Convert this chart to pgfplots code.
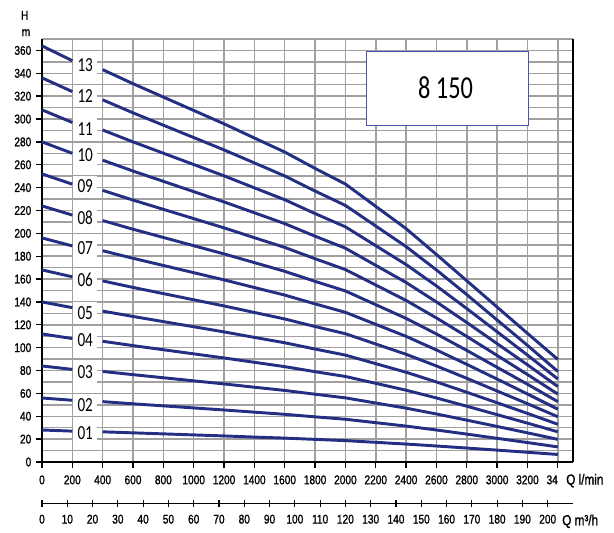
\documentclass[border=0pt]{standalone}
\usepackage{pgfplots}
\usepackage{pgfplotstable}
\pgfplotsset{compat=1.18}
\usepackage{fontspec}
\setmainfont[FakeStretch=0.78]{Liberation Sans}
\newfontfamily\tickfont[FakeStretch=0.8,FakeBold=1.2]{Liberation Sans}
\newfontfamily\calfont[FakeStretch=0.76]{Carlito}
\definecolor{curvec}{RGB}{36,46,130}
\definecolor{gridc}{RGB}{160,160,160}
\definecolor{boxc}{RGB}{70,85,175}

\pgfplotstableread{
Q c1 c2 c3 c4 c5 c6 c7 c8 c9 c10 c11 c12 c13
0 28.0 56.0 84.0 112.0 140.0 168.0 196.0 224.0 252.0 280.0 308.0 336.0 364.0
200 27.0 54.0 81.0 108.0 135.0 162.0 189.0 216.0 243.0 270.0 297.0 324.0 351.0
300 nan nan nan nan nan nan nan nan nan nan nan nan nan
400 26.4 52.8 79.2 105.6 132.0 158.4 184.8 211.2 237.6 264.0 290.4 316.8 343.2
600 25.5 50.9 76.4 101.8 127.3 152.7 178.2 203.6 229.1 254.5 280.0 305.4 330.9
800 24.6 49.1 73.7 98.2 122.8 147.3 171.9 196.4 221.0 245.5 270.1 294.6 319.2
1000 23.7 47.3 71.0 94.6 118.3 141.9 165.6 189.2 212.9 236.5 260.2 283.8 307.5
1200 22.8 45.5 68.3 91.0 113.8 136.5 159.3 182.0 204.8 227.5 250.3 273.0 295.8
1400 21.8 43.6 65.4 87.2 109.0 130.8 152.6 174.4 196.2 218.0 239.8 261.6 283.4
1600 20.9 41.7 62.6 83.4 104.3 125.1 146.0 166.8 187.7 208.5 229.4 250.2 271.1
1800 19.8 39.5 59.3 79.0 98.8 118.5 138.3 158.0 177.8 197.5 217.3 237.0 256.8
2000 18.7 37.4 56.1 74.8 93.5 112.2 130.9 149.6 168.3 187.0 205.7 224.4 243.1
2200 17.2 34.4 51.6 68.8 86.0 103.2 120.4 137.6 154.8 172.0 189.2 206.4 223.6
2400 15.7 31.4 47.1 62.8 78.5 94.2 109.9 125.6 141.3 157.0 172.7 188.4 204.1
2600 14.0 28.0 42.0 56.0 70.0 84.0 98.0 112.0 126.0 140.0 154.0 168.0 181.5
2800 12.2 24.4 36.6 48.8 61.0 73.2 85.4 97.6 109.8 122.0 134.2 146.4 158.5
3000 10.4 20.7 31.1 41.4 51.8 62.1 72.5 82.8 93.2 103.5 113.9 124.2 135.5
3200 8.5 17.0 25.5 34.0 42.5 51.0 59.5 68.0 76.5 85.0 93.5 102.0 112.5
3400 6.6 13.2 19.8 26.4 33.0 39.6 46.2 52.8 59.4 66.0 72.6 79.2 89.7
}\curves

\begin{document}
\begin{tikzpicture}
\path[use as bounding box] (-31.5pt,-52.5pt) rectangle (429pt,346.5pt);
\begin{axis}[
  at={(0,0)}, anchor=south west,
  scale only axis, width=398.25pt, height=317.25pt,
  xmin=0, xmax=3500, ymin=0, ymax=370,
  axis x line*=bottom, axis y line*=left,
  x axis line style={-, black, line width=1.2pt},
  y axis line style={-, black, line width=1.2pt},
  xtick={0,200,...,3400},
  xticklabels={0,200,400,600,800,1000,1200,1400,1600,1800,2000,2200,2400,2600,2800,3000,3200,{\makebox[0pt][r]{34}}},
  ytick={0,20,...,360},
  minor ytick={10,30,...,370},
  grid=both,
  major grid style={gridc, line width=1.1pt},
  minor grid style={gridc, line width=1.1pt},
  tick align=outside, major tick length=4.5pt, minor tick length=0pt,
  tick style={black, line width=1pt},
  ticklabel style={font=\tickfont\fontsize{9.5}{10}\selectfont},
  xticklabel style={yshift=-2pt},
  /pgf/number format/assume math mode=true,
  unbounded coords=jump,
  clip=false,
]
\addplot[curvec, line width=2.2pt] table[x=Q, y=c1] {\curves};
\addplot[curvec, line width=2.2pt] table[x=Q, y=c2] {\curves};
\addplot[curvec, line width=2.2pt] table[x=Q, y=c3] {\curves};
\addplot[curvec, line width=2.2pt] table[x=Q, y=c4] {\curves};
\addplot[curvec, line width=2.2pt] table[x=Q, y=c5] {\curves};
\addplot[curvec, line width=2.2pt] table[x=Q, y=c6] {\curves};
\addplot[curvec, line width=2.2pt] table[x=Q, y=c7] {\curves};
\addplot[curvec, line width=2.2pt] table[x=Q, y=c8] {\curves};
\addplot[curvec, line width=2.2pt] table[x=Q, y=c9] {\curves};
\addplot[curvec, line width=2.2pt] table[x=Q, y=c10] {\curves};
\addplot[curvec, line width=2.2pt] table[x=Q, y=c11] {\curves};
\addplot[curvec, line width=2.2pt] table[x=Q, y=c12] {\curves};
\addplot[curvec, line width=2.2pt] table[x=Q, y=c13] {\curves};
\draw[black, line width=1.2pt] (axis cs:3500,0) -- (axis cs:3500,370);
\tikzset{lab/.style={fill=white, inner sep=0pt, minimum width=18pt, minimum height=16pt, font=\calfont\fontsize{15}{15}\selectfont}}
\node[lab] at (axis cs:285,347.5) {13};
\node[lab] at (axis cs:285,319.7) {12};
\node[lab] at (axis cs:285,291.3) {11};
\node[lab] at (axis cs:285,268.5) {10};
\node[lab] at (axis cs:285,241) {09};
\node[lab] at (axis cs:285,214) {08};
\node[lab] at (axis cs:285,186.7) {07};
\node[lab] at (axis cs:285,159) {06};
\node[lab] at (axis cs:285,130.6) {05};
\node[lab] at (axis cs:285,107) {04};
\node[lab] at (axis cs:285,78.6) {03};
\node[lab] at (axis cs:285,50.2) {02};
\node[lab] at (axis cs:285,25.4) {01};
\draw[boxc, line width=0.9pt, fill=white] (axis cs:2141,294.2) rectangle (axis cs:3208,359.1);
\node[font=\calfont\fontsize{24}{24}\selectfont] at (axis cs:2660,327) {8 150};
\end{axis}
\begin{axis}[
  at={(0,-31pt)}, anchor=south west,
  scale only axis, width=398.25pt, height=1pt,
  xmin=0, xmax=210, ymin=0, ymax=1,
  axis y line=none, axis x line*=bottom,
  x axis line style={-, black, line width=0.8pt},
  xtick={0,10,...,200},
  tick align=center, major tick length=5pt,
  tick style={black, line width=0.8pt},
  ticklabel style={font=\tickfont\fontsize{9.5}{10}\selectfont},
  xticklabel style={yshift=-2.5pt},
  /pgf/number format/assume math mode=true,
]
\end{axis}
\node[inner sep=1pt, anchor=west, font=\tickfont\fontsize{11}{11}\selectfont] at (392pt,-14pt) {Q l/min};
\node[inner sep=1pt, anchor=west, font=\tickfont\fontsize{11}{11}\selectfont] at (389pt,-44.5pt) {Q m³/h};
\node[font=\tickfont\fontsize{9.5}{9.5}\selectfont] at (-13pt,335pt) {H};
\node[font=\tickfont\fontsize{9.5}{9.5}\selectfont] at (-12pt,322pt) {m};
\end{tikzpicture}
\end{document}
